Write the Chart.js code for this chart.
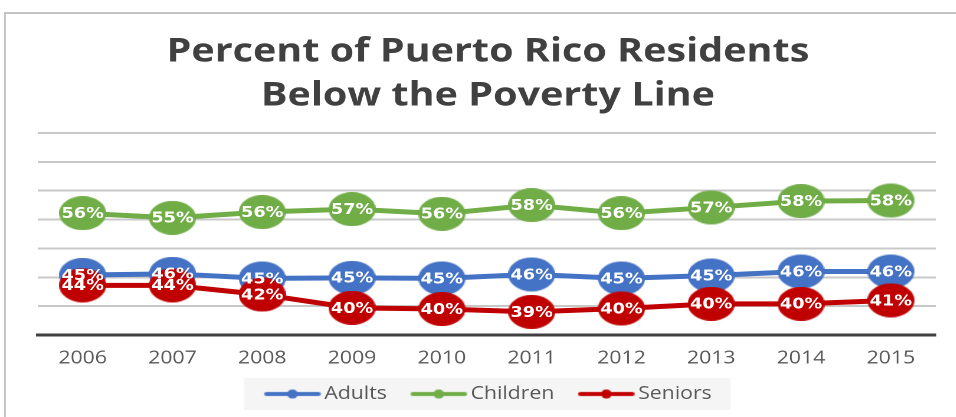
<!DOCTYPE html>
<html><head><meta charset="utf-8">
<script src="https://cdn.jsdelivr.net/npm/chart.js@4.4.0/dist/chart.umd.min.js"></script>
<style>
html,body{margin:0;padding:0;width:956px;height:417px;overflow:hidden;background:#fff;}
#wrap{position:absolute;left:0;top:0;width:810px;height:413px;transform:scaleX(1.18);transform-origin:0 0;}
#frame{position:absolute;left:4px;top:12px;width:1000px;height:500px;border-left:2px solid #c4c4c4;border-top:2px solid #c4c4c4;pointer-events:none;}
</style></head><body>
<div id="wrap"><canvas id="c"></canvas></div>
<div id="frame"></div>
<script>
const titleLines = ['Percent of Puerto Rico Residents', 'Below the Poverty Line'];
const categories = ['2006','2007','2008','2009','2010','2011','2012','2013','2014','2015'];
const seriesNames = ['Adults','Children','Seniors'];
const adults   = [45.4, 45.6, 44.8, 44.9, 44.8, 45.5, 44.8, 45.3, 46.0, 46.0];
const children = [56.1, 55.3, 56.3, 56.8, 56.0, 57.5, 56.1, 57.1, 58.2, 58.3];
const seniors  = [43.6, 43.6, 42.0, 39.7, 39.5, 39.0, 39.6, 40.4, 40.4, 41.0];
const yMin = 35, yMax = 70, yStep = 5;

const colors = ['#4472C4', '#70AD47', '#C00000'];

function legendIcon(color){
  const c = document.createElement('canvas');
  c.width = 56; c.height = 10;
  const g = c.getContext('2d');
  g.strokeStyle = color; g.lineWidth = 4; g.lineCap = 'round';
  g.beginPath(); g.moveTo(9,5); g.lineTo(53,5); g.stroke();
  g.fillStyle = color;
  g.beginPath(); g.arc(31,5,4.5,0,Math.PI*2); g.fill();
  return c;
}
function ellipseMarker(color){
  const c = document.createElement('canvas');
  c.width = 40; c.height = 34;
  const g = c.getContext('2d');
  g.fillStyle = color;
  g.beginPath(); g.ellipse(20,17,20,17,0,0,Math.PI*2); g.fill();
  return c;
}

const labelPlugin = {
  id: 'valueLabels',
  afterDatasetsDraw(chart){
    const ctx = chart.ctx;
    ctx.save();
    ctx.font = 'bold 15px "DejaVu Sans"';
    ctx.fillStyle = '#ffffff';
    ctx.textAlign = 'center';
    ctx.textBaseline = 'middle';
    chart.data.datasets.forEach((ds, i) => {
      chart.getDatasetMeta(i).data.forEach((pt, j) => {
        ctx.fillText(Math.round(ds.data[j]) + '%', pt.x, pt.y + 1);
      });
    });
    ctx.restore();
  }
};

const legendBg = {
  id: 'legendBg',
  beforeDraw(chart){
    const lg = chart.legend;
    if (!lg || !lg.legendHitBoxes || !lg.legendHitBoxes.length) return;
    const hb = lg.legendHitBoxes;
    let l = Infinity, r = -Infinity;
    hb.forEach(b => { l = Math.min(l, b.left); r = Math.max(r, b.left + b.width); });
    const cy = hb[0].top + hb[0].height / 2;
    const ctx = chart.ctx;
    ctx.save();
    ctx.fillStyle = '#f5f5f5';
    ctx.fillRect(l - 17, cy - 16, (r - l) + 33, 32);
    ctx.restore();
  }
};

new Chart(document.getElementById('c'), {
  type: 'line',
  data: {
    labels: categories,
    datasets: [
      { label: seriesNames[0], data: adults, order: 2 },
      { label: seriesNames[1], data: children, order: 1 },
      { label: seriesNames[2], data: seniors, order: 0 }
    ].map((d, i) => Object.assign(d, {
      borderColor: colors[i], backgroundColor: colors[i],
      pointStyle: ellipseMarker(colors[i]),
      pointRadius: 17, pointHoverRadius: 17, pointBorderWidth: 0,
      borderWidth: 5, tension: 0, fill: false
    }))
  },
  options: {
    responsive: true,
    maintainAspectRatio: false,
    animation: false,
    devicePixelRatio: 2,
    layout: { padding: { left: 32, right: 15, top: 0, bottom: 0 } },
    plugins: {
      tooltip: { enabled: false },
      title: {
        display: true,
        text: titleLines,
        color: '#404040',
        font: { family: 'Open Sans', size: 33.5, weight: 'bold', lineHeight: 1.313 },
        padding: { top: 30, bottom: 15 }
      },
      legend: {
        position: 'bottom',
        labels: {
          usePointStyle: true,
          pointStyleWidth: 42,
          padding: 20,
          color: '#595959',
          font: { family: 'Open Sans', size: 18 },
          generateLabels: chart => chart.data.datasets.map((ds, i) => ({
            text: ds.label,
            pointStyle: legendIcon(ds.borderColor),
            fillStyle: ds.borderColor,
            strokeStyle: ds.borderColor,
            lineWidth: 0,
            fontColor: '#595959',
            hidden: !chart.isDatasetVisible(i),
            datasetIndex: i
          }))
        }
      }
    },
    scales: {
      x: {
        offset: true,
        grid: { display: false, drawTicks: false },
        border: { display: true, color: '#404040', width: 3 },
        ticks: { color: '#595959', font: { family: 'Open Sans', size: 18 }, padding: 12.5, maxRotation: 0 },
        afterFit: s => { s.height = 30; }
      },
      y: {
        min: yMin, max: yMax,
        grid: { color: '#c8c8c8', lineWidth: 2, drawTicks: false },
        border: { display: false },
        ticks: { display: false, stepSize: yStep }
      }
    }
  },
  plugins: [legendBg, labelPlugin]
});
</script>
</body></html>
